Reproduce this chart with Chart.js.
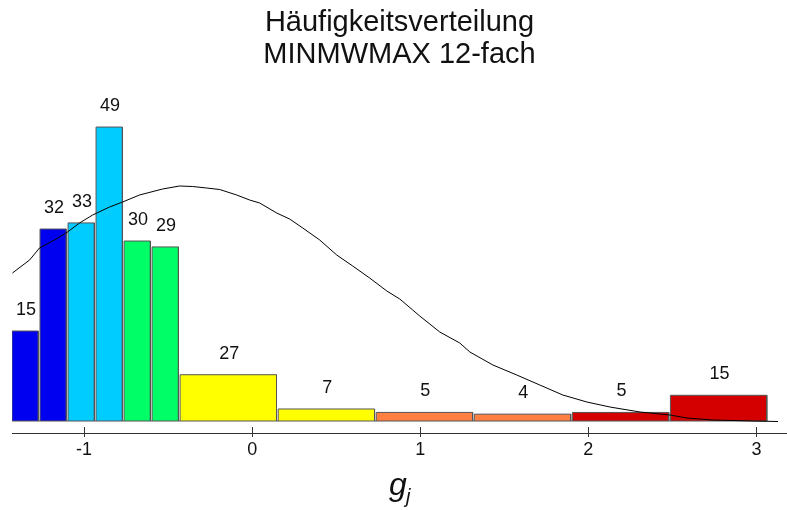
<!DOCTYPE html>
<html>
<head>
<meta charset="utf-8">
<script src="https://cdn.jsdelivr.net/npm/chart.js"></script>
<style>
  html, body { margin: 0; padding: 0; background: #fff; }
  #wrap { width: 787px; height: 510px; position: relative; }
</style>
</head>
<body>
<div id="wrap"><canvas id="myChart"></canvas></div>
<script>
// bin edges (g_j) and counts per bin
const binEdges = [-1.4286, -1.2619, -1.0952, -0.9286, -0.7619, -0.5952, -0.4286,
                  0.1548, 0.7381, 1.3214, 1.9048, 2.4881, 3.0714];
const binCounts = [15, 32, 33, 49, 30, 29, 27, 7, 5, 4, 5, 15];
const binColors = ['#0000f0', '#0000f0', '#00ccff', '#00ccff', '#00ff66', '#00ff66',
                   '#ffff00', '#ffff00', '#ff8040', '#ff8040', '#d40000', '#d40000'];

// fitted curve
const curveX = [-1.426, -1.324, -1.265, -1.176, -1.098, -1.027, -0.949, -0.848, -0.771, -0.670,
                -0.533, -0.432, -0.354, -0.271, -0.193, -0.092, -0.015, 0.045, 0.146, 0.223,
                0.301, 0.402, 0.503, 0.598, 0.699, 0.801, 0.878, 0.955, 0.997, 1.116,
                1.235, 1.295, 1.432, 1.574, 1.711, 1.848, 1.991, 2.128, 2.307, 2.485,
                2.586, 2.741, 2.979, 3.128];
const curveY = [148, 161, 173, 181, 189, 198, 206, 214, 219, 226,
                232, 235, 234.5, 233, 231.5, 226, 221, 218, 208, 202,
                193, 181, 166, 155, 143, 130, 122, 111, 105, 89,
                78, 69, 56, 46, 36, 26, 19, 14, 9, 6,
                3, 1, 0, -0.5];

const tickValues = [-1, 0, 1, 2, 3];

const FONT = "'Liberation Sans', Arial, sans-serif";
const GAP = 0.01; // white gap between bars, in g units

const density = binCounts.map((c, i) => c / (binEdges[i + 1] - binEdges[i]));

const barSets = binCounts.map((c, i) => {
  const l = binEdges[i], r = binEdges[i + 1] - GAP, h = density[i];
  return {
    type: 'line',
    data: [{x: l, y: 0}, {x: l, y: h}, {x: r, y: h}, {x: r, y: 0}],
    backgroundColor: binColors[i],
    borderColor: '#555',
    borderWidth: 1,
    fill: 'origin',
    pointRadius: 0,
    tension: 0,
    order: 2
  };
});

// bottom edge of the bars
const baseSet = {
  type: 'line',
  data: [{x: binEdges[0], y: 0}, {x: binEdges[binEdges.length - 1] - GAP, y: 0}],
  borderColor: '#555',
  borderWidth: 1,
  fill: false,
  pointRadius: 0,
  order: 1
};

const curveSet = {
  type: 'line',
  data: curveX.map((x, i) => ({x: x, y: curveY[i]})),
  borderColor: '#000',
  borderWidth: 1,
  fill: false,
  pointRadius: 0,
  tension: 0,
  order: 0
};

const extras = {
  id: 'extras',
  afterDraw(chart) {
    const ctx = chart.ctx, xs = chart.scales.x, ys = chart.scales.y;
    const base = chart.chartArea.bottom;
    ctx.save();
    // tick marks crossing the axis line
    ctx.strokeStyle = '#333';
    ctx.lineWidth = 1;
    tickValues.forEach(v => {
      const px = Math.round(xs.getPixelForValue(v)) + 0.5;
      ctx.beginPath();
      ctx.moveTo(px, base - 6);
      ctx.lineTo(px, base);
      ctx.stroke();
    });
    // counts above the bars
    ctx.fillStyle = '#111';
    ctx.font = '18px ' + FONT;
    ctx.textAlign = 'center';
    ctx.textBaseline = 'middle';
    binCounts.forEach((c, i) => {
      const px = xs.getPixelForValue((binEdges[i] + binEdges[i + 1]) / 2);
      const py = ys.getPixelForValue(density[i]) - 21;
      ctx.fillText(String(c), px, py);
    });
    // axis title g_j
    const cx = xs.getPixelForValue(0.85);
    ctx.textAlign = 'left';
    ctx.textBaseline = 'alphabetic';
    ctx.font = 'italic 32px ' + FONT;
    ctx.fillText('g', cx - 6, 495);
    ctx.font = 'italic 20px ' + FONT;
    ctx.fillText('j', cx + 11, 503);
    ctx.restore();
  }
};

new Chart(document.getElementById('myChart'), {
  type: 'line',
  data: { datasets: [curveSet, baseSet].concat(barSets) },
  options: {
    responsive: true,
    maintainAspectRatio: false,
    animation: false,
    layout: { padding: { left: 12, right: 0, top: 0, bottom: 49 } },
    plugins: {
      legend: { display: false },
      tooltip: { enabled: false },
      title: {
        display: true,
        text: ['Häufigkeitsverteilung', 'MINMWMAX 12-fach'],
        color: '#111',
        font: { family: FONT, size: 29, weight: 'normal', lineHeight: '32px' },
        padding: { top: 7, bottom: 50 }
      }
    },
    scales: {
      x: {
        type: 'linear',
        min: -1.4286,
        max: 3.1815,
        afterBuildTicks(scale) { scale.ticks = tickValues.map(v => ({value: v})); },
        afterFit(scale) { scale.height = 28; },
        ticks: { color: '#111', font: { family: FONT, size: 18 }, padding: 2, maxRotation: 0 },
        grid: { display: true, drawOnChartArea: false, tickLength: 4, color: '#333', tickWidth: 1 },
        border: { display: true, color: '#333', width: 1 }
      },
      y: {
        display: false,
        min: -12,
        max: 300
      }
    }
  },
  plugins: [extras]
});
</script>
</body>
</html>
